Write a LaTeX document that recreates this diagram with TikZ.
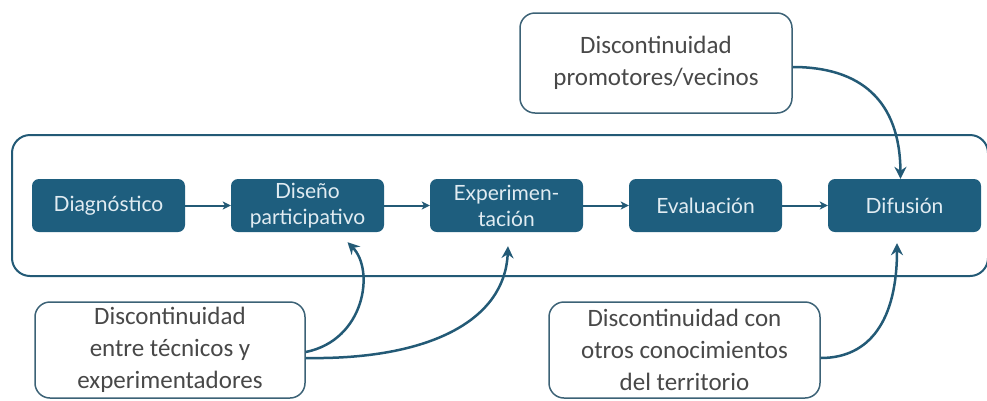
\documentclass[tikz,border=0pt]{standalone}
\usepackage{fontspec}
\setmainfont{Carlito}
\newfontfamily\boxfont{Lato}
\usetikzlibrary{arrows.meta}
\definecolor{boxblue}{RGB}{30,94,126}
\definecolor{lineblue}{RGB}{35,90,118}
\definecolor{calloutline}{RGB}{60,98,118}
\definecolor{callouttext}{RGB}{72,72,72}
\definecolor{boxtext}{RGB}{225,236,242}
\begin{document}
\begin{tikzpicture}[x=1pt,y=-1pt,
 stepbox/.style={draw=none, fill=boxblue, rounded corners=7pt, minimum width=153pt, minimum height=53pt, text=boxtext, font=\boxfont\fontsize{21}{26}\selectfont, align=center, inner sep=0pt},
 callout/.style={draw=calloutline, line width=1.5pt, fill=white, rounded corners=15pt, align=center, text=callouttext, font=\fontsize{25}{32}\selectfont, inner sep=0pt},
 flow/.style={draw=lineblue, line width=2pt, -{Stealth[length=8pt,width=8pt,inset=2pt]}},
 link/.style={draw=lineblue, line width=2.5pt, -{Stealth[length=12pt,width=12pt,inset=4pt]}},
 frame/.style={draw=lineblue, line width=2pt, rounded corners=18pt}
]
\useasboundingbox (0,0) rectangle (987,400);
\draw[frame] (12,135) rectangle (988,276);

\node[stepbox] (d1) at (108.5,205.5) {Diagnóstico};
\node[stepbox] (d2) at (307.5,205.5) {Diseño\\participativo};
\node[stepbox] (d3) at (506.5,205.5) {Experimen-\\tación};
\node[stepbox] (d4) at (705.5,205.5) {Evaluación};
\node[stepbox] (d5) at (904.5,205.5) {Difusión};

\draw[flow] (d1) -- (d2);
\draw[flow] (d2) -- (d3);
\draw[flow] (d3) -- (d4);
\draw[flow] (d4) -- (d5);

\node[callout, minimum width=272pt, minimum height=100pt] (c1) at (656,63) {Discontinuidad\\promotores/vecinos};
\node[callout, minimum width=270pt, minimum height=96pt] (c2) at (170,350) {Discontinuidad\\entre técnicos y\\experimentadores};
\node[callout, minimum width=271pt, minimum height=96pt] (c3) at (684.5,350) {Discontinuidad con\\otros conocimientos\\del territorio};

\draw[link] ([yshift=-4pt]c1.east) .. controls (860,67) and (900,100) .. ([xshift=-4pt]d5.north);
\draw[link] ([yshift=-2pt]c2.east) .. controls (365,340) and (375,270) .. ([xshift=40pt,yshift=-10pt]d2.south);
\draw[link] ([yshift=-8pt]c2.east) .. controls (430,360) and (505,320) .. ([xshift=1.5pt,yshift=-14pt]d3.south);
\draw[link] ([yshift=-8pt]c3.east) .. controls (870,358) and (897,320) .. ([xshift=-7.5pt,yshift=-11pt]d5.south);
\end{tikzpicture}
\end{document}
